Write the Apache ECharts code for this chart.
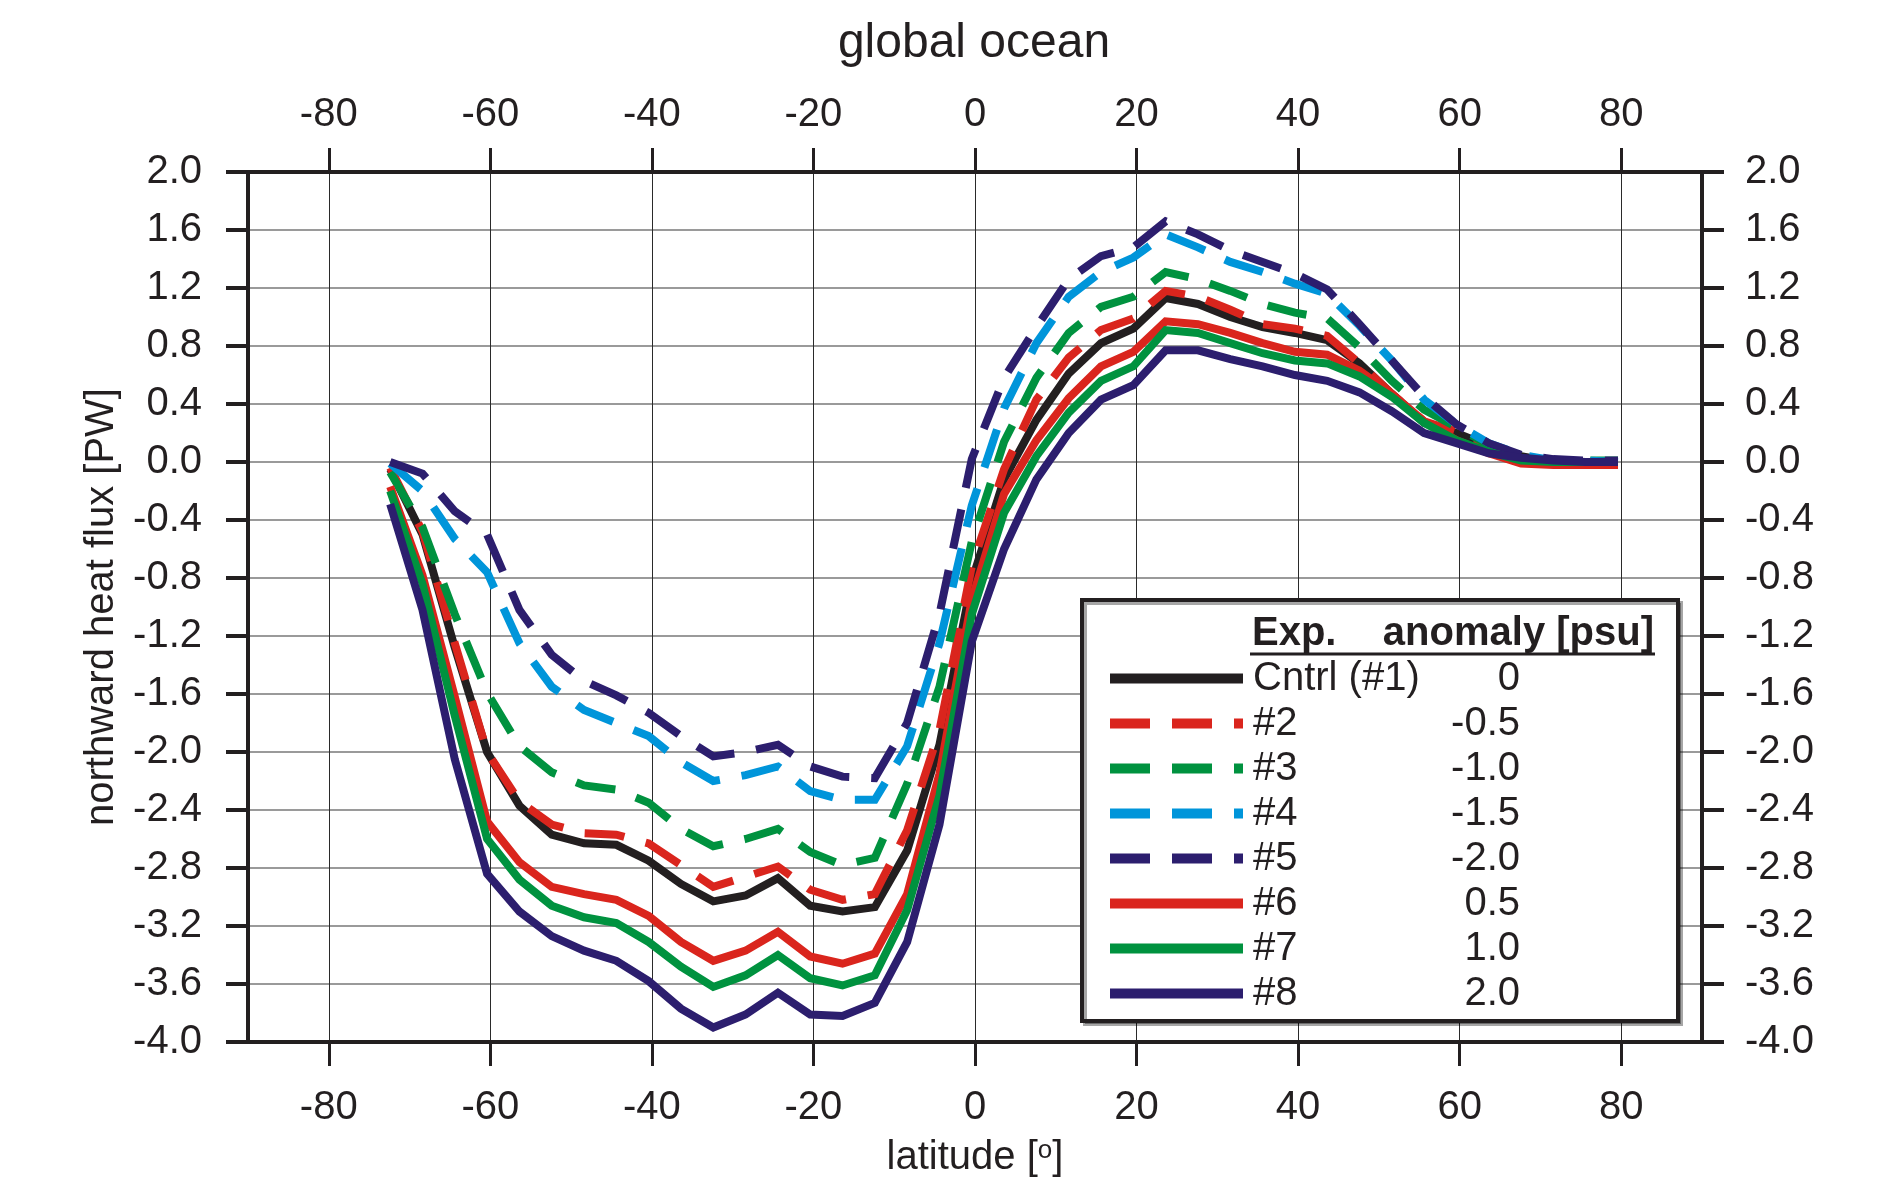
<!DOCTYPE html>
<html>
<head>
<meta charset="utf-8">
<title>global ocean</title>
<script src="https://cdn.jsdelivr.net/npm/echarts@6.0.0/dist/echarts.min.js"></script>
<style>
  html, body { margin: 0; padding: 0; background: #fff; }
  #main { width: 1900px; height: 1189px; }
</style>
</head>
<body>
<div id="main"></div>
<script>
  // latitude of the model grid points
  const lats = [-72.4, -68.4, -64.4, -60.4, -56.4, -52.4, -48.4, -44.4, -40.4, -36.4,
    -32.4, -28.4, -24.4, -20.4, -16.4, -12.4, -8.4, -4.4, -0.4, 3.6,
    7.6, 11.6, 15.6, 19.6, 23.6, 27.6, 31.6, 35.6, 39.6, 43.6,
    47.6, 51.6, 55.6, 59.6, 63.6, 67.6, 71.6, 75.6, 79.6]

  // northward heat flux [PW] per experiment
  const cntrl = [-0.05, -0.50, -1.28, -2.00, -2.37, -2.57, -2.63, -2.64, -2.75, -2.91,
    -3.03, -2.99, -2.87, -3.06, -3.10, -3.07, -2.68, -1.95, -0.82, -0.12,
    0.29, 0.61, 0.82, 0.92, 1.13, 1.09, 1.00, 0.93, 0.89, 0.84,
    0.68, 0.47, 0.27, 0.20, 0.11, 0.04, 0.00, -0.01, -0.01]
  const exp2 = [-0.04, -0.48, -1.25, -2.00, -2.34, -2.50, -2.56, -2.57, -2.63, -2.78,
    -2.93, -2.86, -2.79, -2.95, -3.02, -2.98, -2.54, -1.85, -0.72, -0.05,
    0.43, 0.72, 0.91, 0.99, 1.18, 1.14, 1.05, 0.95, 0.92, 0.87,
    0.68, 0.47, 0.28, 0.21, 0.10, 0.00, -0.01, -0.01, -0.01]
  const exp3 = [-0.07, -0.45, -1.05, -1.59, -1.96, -2.14, -2.23, -2.26, -2.35, -2.53,
    -2.65, -2.60, -2.53, -2.69, -2.78, -2.73, -2.22, -1.55, -0.55, 0.14,
    0.58, 0.89, 1.07, 1.14, 1.31, 1.26, 1.18, 1.09, 1.03, 0.99,
    0.79, 0.56, 0.36, 0.24, 0.12, 0.03, 0.01, 0.01, 0.01]
  const exp4 = [-0.01, -0.20, -0.53, -0.76, -1.25, -1.55, -1.71, -1.80, -1.89, -2.07,
    -2.20, -2.16, -2.10, -2.27, -2.33, -2.33, -1.96, -1.25, -0.30, 0.37,
    0.82, 1.14, 1.31, 1.41, 1.57, 1.48, 1.38, 1.31, 1.23, 1.16,
    0.94, 0.70, 0.43, 0.26, 0.13, 0.05, 0.01, 0.01, 0.00]
  const exp5 = [0.00, -0.08, -0.34, -0.50, -1.02, -1.33, -1.51, -1.61, -1.73, -1.89,
    -2.03, -2.00, -1.95, -2.10, -2.17, -2.18, -1.80, -1.05, 0.02, 0.58,
    0.93, 1.26, 1.42, 1.48, 1.66, 1.57, 1.46, 1.38, 1.30, 1.19,
    0.95, 0.70, 0.45, 0.26, 0.13, 0.05, 0.02, 0.01, 0.01]
  const exp6 = [-0.17, -0.78, -1.62, -2.48, -2.76, -2.93, -2.98, -3.02, -3.13, -3.31,
    -3.44, -3.37, -3.24, -3.41, -3.46, -3.39, -2.98, -2.15, -0.95, -0.22,
    0.15, 0.44, 0.66, 0.76, 0.97, 0.95, 0.89, 0.82, 0.76, 0.74,
    0.63, 0.47, 0.28, 0.15, 0.06, -0.01, -0.02, -0.02, -0.02]
  const exp7 = [-0.20, -0.84, -1.75, -2.60, -2.88, -3.06, -3.14, -3.18, -3.31, -3.48,
    -3.62, -3.54, -3.40, -3.56, -3.61, -3.54, -3.09, -2.30, -1.05, -0.35,
    0.04, 0.34, 0.56, 0.66, 0.91, 0.89, 0.82, 0.75, 0.70, 0.68,
    0.59, 0.45, 0.27, 0.15, 0.07, 0.01, 0.00, 0.00, 0.00]
  const exp8 = [-0.29, -1.02, -2.05, -2.84, -3.10, -3.27, -3.37, -3.44, -3.58, -3.77,
    -3.90, -3.81, -3.66, -3.81, -3.82, -3.73, -3.31, -2.50, -1.24, -0.60,
    -0.12, 0.20, 0.43, 0.53, 0.77, 0.77, 0.71, 0.66, 0.60, 0.56,
    0.48, 0.35, 0.20, 0.13, 0.06, 0.03, 0.01, 0.00, 0.00]

  const expNames = ['Cntrl (#1)', '#2', '#3', '#4', '#5', '#6', '#7', '#8']
  const anomalies = ['0', '-0.5', '-1.0', '-1.5', '-2.0', '0.5', '1.0', '2.0']
  const latTicks = [-80, -60, -40, -20, 0, 20, 40, 60, 80]

  const FONT = 'Liberation Sans, Arial, sans-serif'
  const INK = '#231f20'
  const RED = '#da251d'
  const GREEN = '#00923f'
  const BLUE = '#0095da'
  const NAVY = '#2c1e6e'
  const DASH = [40, 22]

  const lineDefs = [
    { data: cntrl, color: INK, type: 'solid' },
    { data: exp2, color: RED, type: DASH },
    { data: exp3, color: GREEN, type: DASH },
    { data: exp4, color: BLUE, type: DASH },
    { data: exp5, color: NAVY, type: DASH },
    { data: exp6, color: RED, type: 'solid' },
    { data: exp7, color: GREEN, type: 'solid' },
    { data: exp8, color: NAVY, type: 'solid' }
  ]

  const series = lineDefs.map((d, i) => ({
    name: expNames[i],
    type: 'line',
    data: lats.map((lat, j) => [lat, d.data[j]]),
    showSymbol: false,
    symbol: 'none',
    color: d.color,
    lineStyle: { color: d.color, width: 8, type: d.type, join: 'miter' },
    z: 3
  }))

  const xAxisBase = {
    type: 'value',
    min: -90,
    max: 90,
    axisLine: { show: true, onZero: false, lineStyle: { color: INK, width: 4 } },
    axisTick: { show: true, customValues: latTicks, length: 24, lineStyle: { color: INK, width: 3 } },
    axisLabel: { customValues: latTicks, fontSize: 40, fontFamily: FONT, color: INK, margin: 46 },
    splitLine: { show: false }
  }

  const yAxisBase = {
    type: 'value',
    min: -4,
    max: 2,
    interval: 0.4,
    axisLine: { show: true, onZero: false, lineStyle: { color: INK, width: 4 } },
    axisTick: { show: true, length: 22, lineStyle: { color: INK, width: 4 } },
    axisLabel: {
      fontSize: 40, fontFamily: FONT, color: INK,
      formatter: v => (Math.abs(v) < 1e-9 ? 0 : v).toFixed(1)
    },
    splitLine: { show: false }
  }

  const chart = echarts.init(document.getElementById('main'))
  const option = {
    animation: false,
    backgroundColor: '#fff',
    title: {
      text: 'global ocean',
      left: 969,
      top: 15,
      textAlign: 'center',
      textStyle: { fontSize: 48, fontWeight: 'normal', fontFamily: FONT, color: INK }
    },
    grid: { left: 248, right: 198, top: 172, bottom: 147 },
    xAxis: [
      Object.assign({}, xAxisBase, {
        position: 'bottom',
        name: '{a|latitude [}{s|o}{a|]}',
        nameLocation: 'middle',
        nameGap: 96,
        nameTextStyle: {
          rich: {
            a: { fontSize: 40, fontFamily: FONT, color: INK },
            s: { fontSize: 26, fontFamily: FONT, color: INK, verticalAlign: 'top' }
          }
        },
        splitLine: { show: true, lineStyle: { color: '#2a2a2a', width: 1 } }
      }),
      Object.assign({}, xAxisBase, {
        position: 'top',
        axisLabel: Object.assign({}, xAxisBase.axisLabel, { margin: 37 })
      })
    ],
    yAxis: [
      Object.assign({}, yAxisBase, {
        position: 'left',
        name: 'northward heat flux [PW]',
        nameLocation: 'middle',
        nameGap: 117,
        nameTextStyle: { fontSize: 40, fontFamily: FONT, color: INK },
        axisLabel: Object.assign({}, yAxisBase.axisLabel, { margin: 46 }),
        splitLine: { show: true, lineStyle: { color: '#9a9a9a', width: 2 } }
      }),
      Object.assign({}, yAxisBase, {
        position: 'right',
        axisLabel: Object.assign({}, yAxisBase.axisLabel, { margin: 43 })
      })
    ],
    legend: {
      orient: 'vertical',
      left: 1105,
      top: 656,
      padding: 0,
      itemWidth: 133,
      itemHeight: 45,
      itemGap: 0,
      selectedMode: false,
      z: 20,
      itemStyle: { opacity: 0 },
      lineStyle: { width: 10 },
      data: expNames,
      formatter: name => '{n|' + name + '}{v|' + anomalies[expNames.indexOf(name)] + '}',
      textStyle: {
        fontSize: 40,
        fontFamily: FONT,
        color: INK,
        lineHeight: 45,
        rich: {
          n: { width: 170, padding: [0, 0, 0, 5], fontSize: 40, fontFamily: FONT, color: INK, lineHeight: 45 },
          v: { width: 97, align: 'right', fontSize: 40, fontFamily: FONT, color: INK, lineHeight: 45 }
        }
      }
    },
    graphic: [
      {
        type: 'rect',
        z: 10,
        shape: { x: 1082, y: 600, width: 596, height: 421 },
        style: {
          fill: '#fff', stroke: INK, lineWidth: 4,
          shadowColor: 'rgba(0,0,0,0.35)', shadowOffsetX: 3, shadowOffsetY: 3, shadowBlur: 0
        }
      },
      {
        type: 'text',
        z: 21,
        x: 1252,
        y: 634,
        style: {
          text: 'Exp.', font: 'bold 40px ' + FONT, fill: INK,
          textAlign: 'left', textVerticalAlign: 'middle'
        }
      },
      {
        type: 'text',
        z: 21,
        x: 1654,
        y: 634,
        style: {
          text: 'anomaly [psu]', font: 'bold 40px ' + FONT, fill: INK,
          textAlign: 'right', textVerticalAlign: 'middle'
        }
      },
      {
        type: 'line',
        z: 21,
        shape: { x1: 1250, y1: 654, x2: 1655, y2: 654 },
        style: { stroke: INK, lineWidth: 3 }
      }
    ],
    series: series
  }
  option && chart.setOption(option)
</script>
</body>
</html>
